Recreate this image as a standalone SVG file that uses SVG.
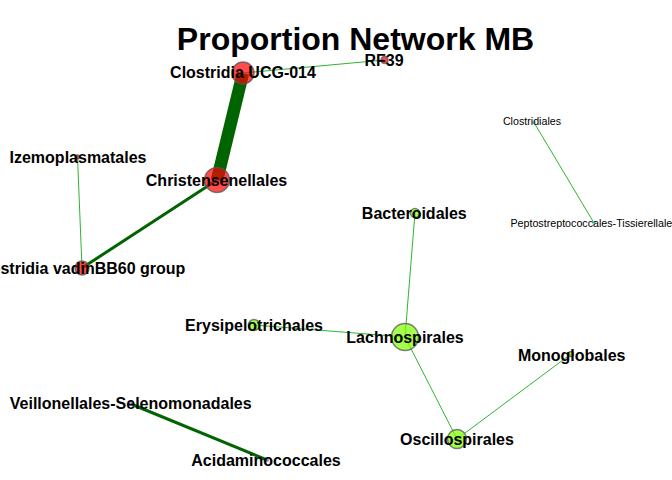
<svg xmlns="http://www.w3.org/2000/svg" width="672" height="480" viewBox="0 0 672 480">
<style>
.title{font-family:"Liberation Sans",Arial,sans-serif;font-weight:bold;font-size:32px;fill:#000;text-anchor:middle}
.lbl{font-family:"Liberation Sans",Arial,sans-serif;font-weight:bold;font-size:16px;fill:#000;text-anchor:middle}
.sm{font-family:"Liberation Sans",Arial,sans-serif;font-size:10.7px;fill:#000;text-anchor:middle}
.thin{stroke:#2fb52f;stroke-width:1;fill:none}
.dark{stroke:#006400;fill:none;stroke-linecap:butt}
.red{fill:#ff0000;fill-opacity:0.7;stroke:#555;stroke-opacity:0.75;stroke-width:1.5}
.grn{fill:#7fff00;fill-opacity:0.7;stroke:#555;stroke-opacity:0.75;stroke-width:1.5}
.blu{fill:#66e0e0;fill-opacity:0.8}
.pur{fill:#9966dd;fill-opacity:0.8}
</style>
<rect width="672" height="480" fill="#fff"/>
<text class="title" x="355.5" y="50">Proportion Network MB</text>
<g id="edges">
<line class="dark" x1="243" y1="73" x2="217" y2="180" stroke-width="12.5"/>
<line class="thin" x1="243" y1="73" x2="384.5" y2="60"/>
<line class="dark" x1="217" y1="180" x2="82" y2="268" stroke-width="3"/>
<line class="thin" x1="77.5" y1="157" x2="82" y2="268"/>
<line class="thin" x1="415" y1="213" x2="405" y2="337"/>
<line class="thin" x1="254" y1="325" x2="405" y2="337" stroke-width="1.4" stroke="#2a9d2a"/>
<line class="thin" x1="405" y1="337" x2="457" y2="439"/>
<line class="thin" x1="571" y1="354" x2="457" y2="439"/>
<line class="dark" x1="131" y1="404" x2="267" y2="460" stroke-width="3"/>
<line class="thin" x1="534" y1="122.5" x2="594" y2="223"/>
</g>
<g id="n-clostridia-ucg-014"><circle class="red" cx="243" cy="73" r="11"/><text class="lbl" x="243" y="78">Clostridia UCG-014</text></g>
<g id="n-rf39"><circle class="red" cx="384.5" cy="60" r="3.5" stroke-width="0.8"/><text class="lbl" x="384" y="65.5">RF39</text></g>
<g id="n-christensenellales"><circle class="red" cx="217" cy="180" r="12.5"/><text class="lbl" x="216.5" y="186">Christensenellales</text></g>
<g id="n-izemoplasmatales"><circle class="red" cx="77.5" cy="157" r="2" stroke-width="0.6"/><text class="lbl" x="78" y="162.7">Izemoplasmatales</text></g>
<g id="n-vadinbb60"><circle class="red" cx="82" cy="268" r="7"/><text class="lbl" x="80" y="273.5">Clostridia vadinBB60 group</text></g>
<g id="n-bacteroidales"><circle class="grn" cx="415" cy="213" r="4.5"/><text class="lbl" x="414.3" y="218.5">Bacteroidales</text></g>
<g id="n-lachnospirales"><circle class="grn" cx="405" cy="337" r="13.5"/><text class="lbl" x="405" y="342.5">Lachnospirales</text></g>
<g id="n-erysipelotrichales"><circle class="grn" cx="254" cy="325" r="5.5"/><text class="lbl" x="254" y="330.7">Erysipelotrichales</text></g>
<g id="n-monoglobales"><circle class="grn" cx="571" cy="354" r="2.5" stroke-width="0.8"/><text class="lbl" x="571.7" y="360.7">Monoglobales</text></g>
<g id="n-oscillospirales"><circle class="grn" cx="457" cy="439" r="9.5"/><text class="lbl" x="457" y="445">Oscillospirales</text></g>
<g id="n-clostridiales"><circle class="blu" cx="534" cy="122.5" r="2"/><text class="sm" x="532" y="124.5">Clostridiales</text></g>
<g id="n-peptostreptococcales"><circle class="blu" cx="594" cy="223" r="2"/><text class="sm" x="594" y="226.7">Peptostreptococcales-Tissierellales</text></g>
<g id="n-veillonellales"><circle class="pur" cx="131" cy="404" r="2"/><text class="lbl" x="130.7" y="408.5">Veillonellales-Selenomonadales</text></g>
<g id="n-acidaminococcales"><circle class="pur" cx="267" cy="460" r="2"/><text class="lbl" x="266" y="465.5">Acidaminococcales</text></g>
</svg>
